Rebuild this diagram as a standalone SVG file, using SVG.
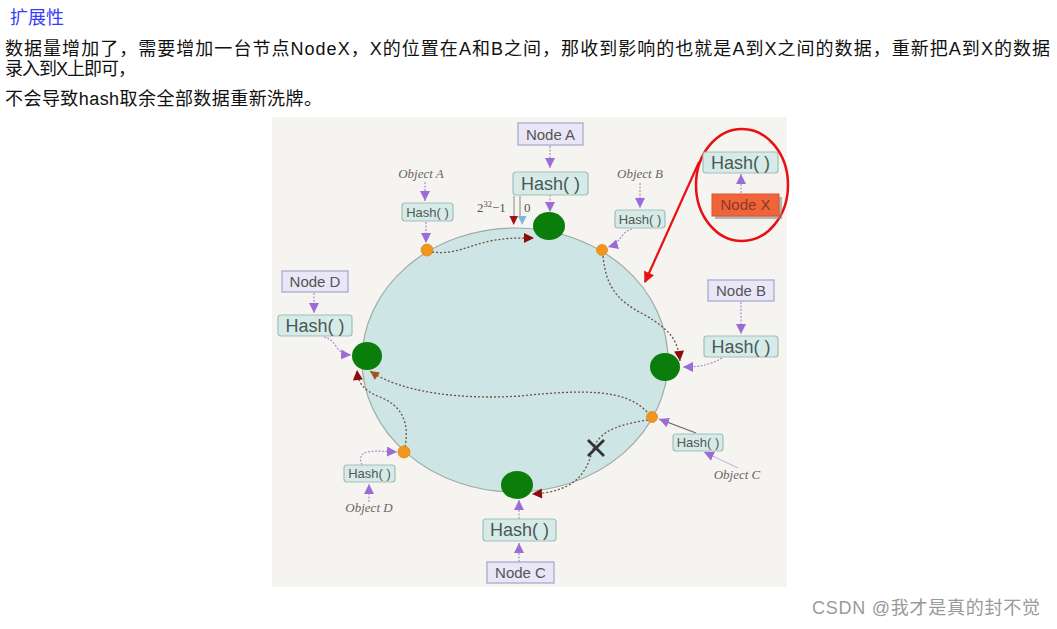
<svg xmlns="http://www.w3.org/2000/svg" width="1057" height="629" viewBox="0 0 1057 629">
<style>
.cn{font-family:"Liberation Sans","Noto Sans CJK SC",sans-serif;font-size:18px;fill:#111}
.nodebox{fill:#e9e7f7;stroke:#a6a3c9;stroke-width:1.2}
.hashbox{fill:#d6ebe7;stroke:#a3bdb8;stroke-width:1.2}
.lbl{font-family:"Liberation Sans",sans-serif;fill:#555;text-anchor:middle}
.obj{font-family:"Liberation Serif",serif;font-style:italic;font-size:13px;fill:#666;text-anchor:middle}
.green{fill:#0b7d0b}
.orange{fill:#f0961e;stroke:#e08a10;stroke-width:0.8}
.pl{fill:none;stroke:#b08ad8;stroke-width:1.2;stroke-dasharray:2 1.5}
.dot{fill:none;stroke:#6e5040;stroke-width:1.3;stroke-dasharray:2 2}
</style>
<defs>
<marker id="mp" viewBox="0 0 10 10" refX="10" refY="5" markerWidth="10" markerHeight="10" markerUnits="userSpaceOnUse" orient="auto"><path d="M0,0 L10,5 L0,10 z" fill="#9b6bd6"/></marker>
<marker id="mr" viewBox="0 0 10 10" refX="10" refY="5" markerWidth="11" markerHeight="10" markerUnits="userSpaceOnUse" orient="auto"><path d="M0,0 L10,5 L0,10 z" fill="#8b0c0c"/></marker>
<marker id="mb" viewBox="0 0 10 10" refX="10" refY="5" markerWidth="11" markerHeight="9" markerUnits="userSpaceOnUse" orient="auto"><path d="M0,0 L10,5 L0,10 z" fill="#a3531e"/></marker>
<marker id="mred" viewBox="0 0 10 10" refX="9" refY="5" markerWidth="13" markerHeight="11" markerUnits="userSpaceOnUse" orient="auto"><path d="M0,0 L10,5 L0,10 z" fill="#e81010"/></marker>
</defs>
<rect width="1057" height="629" fill="#ffffff"/>
<g id="text">
<text x="10" y="24" class="cn" style="fill:#3a3aff">扩展性</text>
<text x="5" y="55" class="cn" textLength="1045" lengthAdjust="spacing">数据量增加了，需要增加一台节点NodeX，X的位置在A和B之间，那收到影响的也就是A到X之间的数据，重新把A到X的数据</text>
<text x="5" y="75" class="cn" textLength="131" lengthAdjust="spacing">录入到X上即可，</text>
<text x="5" y="105" class="cn" textLength="317" lengthAdjust="spacing">不会导致hash取余全部数据重新洗牌。</text>
<text x="812" y="614" style="font-family:'Liberation Sans','Noto Sans CJK SC',sans-serif;font-size:18px;fill:#9a9a9a" textLength="228" lengthAdjust="spacing">CSDN @我才是真的封不觉</text>
</g>
<rect x="272" y="117" width="515" height="470" fill="#f6f4f1"/>
<g id="ring">
<ellipse cx="515" cy="360" rx="153" ry="132" fill="#cde5e4" stroke="#9fa9a7" stroke-width="1.2"/>
</g>
<g id="connectors">
<path class="pl" d="M550,146 L550,168" marker-end="url(#mp)"/>
<path class="pl" d="M550,195 L550,212" marker-end="url(#mp)"/>
<path class="pl" d="M425,182 L425,201" marker-end="url(#mp)"/>
<path class="pl" d="M426,222 L426,243" marker-end="url(#mp)"/>
<path class="pl" d="M640,183 L640,208" marker-end="url(#mp)"/>
<path class="pl" d="M632,229 C620,232 622,243 608,247" marker-end="url(#mp)"/>
<path class="pl" d="M314,293 L314,313" marker-end="url(#mp)"/>
<path class="pl" d="M324,337 C338,340 334,354 351,355" marker-end="url(#mp)"/>
<path class="pl" d="M741,302 L741,334" marker-end="url(#mp)"/>
<path class="pl" d="M722,358 C710,365 700,367 683,367" marker-end="url(#mp)"/>
<path class="pl" d="M519,562 L519,543" marker-end="url(#mp)"/>
<path class="pl" d="M519,519 L519,500" marker-end="url(#mp)"/>
<path class="pl" d="M369,502 L369,484" marker-end="url(#mp)"/>
<path class="pl" d="M362,465 C355,448 375,451 397,452" marker-end="url(#mp)"/>
<path class="pl" d="M741,193 L741,174" marker-end="url(#mp)"/>
<path d="M738,468 L704,452" fill="none" stroke="#c8b8e0" stroke-width="1.3" marker-end="url(#mp)"/>
<path d="M696,433 L659,419" fill="none" stroke="#666" stroke-width="1.3" marker-end="url(#mp)"/>
<path class="dot" d="M432,252 C455,255 470,245 490,241 C505,238 515,238 534,238" marker-end="url(#mr)"/>
<path class="dot" d="M603,256 C606,285 615,300 645,315 C670,330 678,340 680,361" marker-end="url(#mr)"/>
<path class="dot" d="M647,412 C625,388 580,390 520,396 C460,400 400,392 370,371" marker-end="url(#mb)"/>
<path class="dot" d="M405,447 C410,420 400,405 380,397 C362,390 358,382 357,370" marker-end="url(#mr)"/>
<path class="dot" d="M648,420 C615,425 598,432 592,452 C585,478 570,492 532,494" marker-end="url(#mr)"/>
<path d="M699,162 L645,282" fill="none" stroke="#e81010" stroke-width="2.2" marker-end="url(#mred)"/>
<path d="M514,196 L514,216 M520,196 L520,216" stroke="#888" stroke-width="1"/>
<polygon points="509.5,216 518,216 513.7,225" fill="#a01010"/>
<polygon points="518,216 526.5,216 522.2,225" fill="#7ab8e0"/>
</g>
<g id="node-a">
<rect x="518" y="123" width="65" height="22" class="nodebox"/>
<text x="550.5" y="139.5" class="lbl" font-size="15">Node A</text>
<rect x="513" y="172" width="75" height="23" rx="3" class="hashbox"/>
<text x="550.5" y="189.5" class="lbl" font-size="18" style="fill:#4a5856">Hash( )</text>
<ellipse cx="549" cy="226" rx="16" ry="14" class="green"/>
<text x="477" y="212" style="font-family:'Liberation Serif',serif;font-size:13px;fill:#555">2<tspan dy="-5" font-size="8.5">32</tspan><tspan dy="5">−1</tspan></text>
<text x="524" y="212" style="font-family:'Liberation Serif',serif;font-size:13px;fill:#555">0</text>
</g>
<g id="node-b">
<rect x="708" y="280" width="66" height="21" class="nodebox"/>
<text x="741" y="296" class="lbl" font-size="15">Node B</text>
<rect x="704" y="336" width="74" height="21" rx="3" class="hashbox"/>
<text x="741" y="353" class="lbl" font-size="18" style="fill:#4a5856">Hash( )</text>
<ellipse cx="665" cy="367" rx="15" ry="14" class="green"/>
</g>
<g id="node-c">
<rect x="487" y="562" width="67" height="21" class="nodebox"/>
<text x="520.5" y="578" class="lbl" font-size="15">Node C</text>
<rect x="483" y="519" width="73" height="22" rx="3" class="hashbox"/>
<text x="519.5" y="536" class="lbl" font-size="18" style="fill:#4a5856">Hash( )</text>
<ellipse cx="517" cy="485" rx="16" ry="14" class="green"/>
</g>
<g id="node-d">
<rect x="282" y="271" width="66" height="21" class="nodebox"/>
<text x="315" y="287" class="lbl" font-size="15">Node D</text>
<rect x="278" y="315" width="74" height="21" rx="3" class="hashbox"/>
<text x="315" y="332" class="lbl" font-size="18" style="fill:#4a5856">Hash( )</text>
<ellipse cx="367" cy="356" rx="15" ry="14" class="green"/>
</g>
<g id="node-x">
<ellipse cx="742" cy="185" rx="46" ry="56" fill="none" stroke="#e81010" stroke-width="2.5"/>
<rect x="703" y="152" width="75" height="21" rx="3" class="hashbox"/>
<text x="740.5" y="169" class="lbl" font-size="18" style="fill:#4a5856">Hash( )</text>
<rect x="715" y="197" width="67" height="22" fill="#8a8a8a" opacity="0.6"/>
<rect x="712" y="194" width="67" height="22" fill="#f0643a" stroke="#d85530" stroke-width="1"/>
<text x="745.5" y="210" class="lbl" font-size="15" style="fill:#8a3a26">Node X</text>
</g>
<g id="object-a">
<text x="421" y="178" class="obj">Object A</text>
<rect x="402" y="203" width="51" height="18" rx="3" class="hashbox"/>
<text x="427.5" y="216.5" class="lbl" font-size="13">Hash( )</text>
<circle cx="427" cy="250" r="6" class="orange"/>
</g>
<g id="object-b">
<text x="640" y="178" class="obj">Object B</text>
<rect x="615" y="210" width="50" height="18" rx="3" class="hashbox"/>
<text x="640" y="223.5" class="lbl" font-size="13">Hash( )</text>
<circle cx="602" cy="250" r="5.5" class="orange"/>
</g>
<g id="object-c">
<text x="737" y="479" class="obj">Object C</text>
<rect x="673" y="434" width="50" height="17" rx="3" class="hashbox"/>
<text x="698" y="447" class="lbl" font-size="13">Hash( )</text>
<circle cx="652" cy="417" r="5.5" class="orange"/>
</g>
<g id="object-d">
<text x="369" y="512" class="obj">Object D</text>
<rect x="344" y="465" width="51" height="17" rx="3" class="hashbox"/>
<text x="369.5" y="478" class="lbl" font-size="13">Hash( )</text>
<circle cx="404" cy="452" r="6" class="orange"/>
</g>
<g id="cross">
<path d="M588,440 L604,456 M604,440 L588,456" stroke="#333" stroke-width="2.8"/>
</g>
</svg>
